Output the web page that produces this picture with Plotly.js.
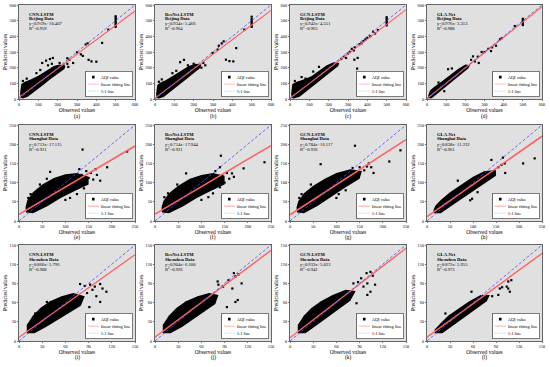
<!DOCTYPE html>
<html>
<head>
<meta charset="utf-8">
<script src="https://cdn.plot.ly/plotly-3.0.1.min.js"></script>
<style>html,body{margin:0;padding:0;background:#fff;}#chart{width:550px;height:367px;}</style>
</head>
<body>
<div id="chart"></div>
<script>
// ---------- text / fit data ----------
const models = ['CNN-LSTM', 'ResNet-LSTM', 'GCN-LSTM', 'GLA-Net'];
const cities = ['Beijing Data', 'Shanghai Data', 'Shenzhen Data'];
const slopes = [[0.919, 0.934, 0.943, 0.976], [0.713, 0.714, 0.784, 0.838], [0.860, 0.904, 0.933, 0.872]];
const intercepts = [[10.407, 5.466, 4.551, 3.313], [17.115, 17.944, 16.117, 11.232], [5.796, 6.100, 5.022, 5.955]];
const slopeText = [['0.919', '0.934', '0.943', '0.976'], ['0.713', '0.714', '0.784', '0.838'], ['0.860', '0.904', '0.933', '0.872']];
const interceptText = [['10.407', '5.466', '4.551', '3.313'], ['17.115', '17.944', '16.117', '11.232'], ['5.796', '6.100', '5.022', '5.955']];
const r2Text = [['0.959', '0.964', '0.965', '0.988'], ['0.911', '0.921', '0.936', '0.961'], ['0.908', '0.926', '0.942', '0.973']];
const axisMax = [600, 250, 150];
const axisStep = [100, 50, 30];
const panelLabels = ['(a)', '(b)', '(c)', '(d)', '(e)', '(f)', '(g)', '(h)', '(i)', '(j)', '(k)', '(l)'];

// ---------- dense point clouds (outlines) and scattered points ----------
// Beijing
const aCloudX = [8, 20, 45, 80, 120, 160, 200, 235, 240, 210, 180, 140, 100, 60, 30, 12, 6];
const aCloudY = [8, 3, 15, 45, 85, 125, 160, 192, 210, 220, 210, 180, 148, 125, 110, 95, 40];
const aPtsX = [120, 140, 160, 175, 200, 210, 230, 250, 260, 280, 300, 320, 330, 345, 355, 360, 375, 400, 430, 462, 500, 500, 500, 500, 500, 500, 500, 500, 90, 110, 150, 170, 250, 255, 20, 40];
const aPtsY = [230, 245, 255, 262, 205, 230, 215, 260, 250, 230, 298, 285, 275, 348, 355, 250, 240, 238, 358, 443, 460, 470, 480, 490, 500, 510, 520, 528, 165, 185, 215, 225, 225, 205, 115, 130];
const bCloudX = [8, 20, 45, 80, 120, 160, 200, 235, 240, 210, 175, 135, 95, 55, 28, 12, 6];
const bCloudY = [6, 3, 12, 45, 85, 125, 165, 200, 220, 225, 210, 180, 145, 120, 105, 90, 35];
const bPtsX = [130, 150, 170, 200, 220, 240, 298, 324, 330, 345, 355, 420, 367, 385, 405, 462, 500, 500, 500, 500, 500, 500, 500, 90, 110, 250, 260, 20, 35];
const bPtsY = [235, 250, 215, 225, 195, 200, 294, 315, 340, 355, 368, 325, 251, 242, 240, 443, 460, 470, 480, 490, 500, 510, 525, 165, 180, 230, 215, 110, 125];
const cCloudX = [8, 20, 50, 90, 130, 170, 210, 250, 255, 225, 190, 150, 110, 70, 35, 12, 6];
const cCloudY = [6, 3, 15, 55, 95, 135, 175, 210, 230, 235, 215, 180, 145, 125, 110, 95, 35];
const cPtsX = [265, 280, 290, 300, 310, 320, 330, 335, 347, 350, 360, 370, 380, 390, 400, 415, 430, 440, 455, 333, 60, 80, 500, 500, 500, 500, 500, 500, 120, 150, 25];
const cPtsY = [255, 270, 262, 290, 300, 320, 310, 330, 194, 262, 350, 355, 370, 380, 390, 400, 430, 418, 440, 251, 140, 130, 470, 480, 490, 500, 510, 522, 175, 205, 115];
const dCloudX = [8, 25, 60, 100, 140, 180, 215, 225, 200, 160, 120, 80, 40, 15, 6];
const dCloudY = [5, 5, 40, 80, 120, 160, 195, 215, 220, 190, 150, 115, 80, 55, 20];
const dPtsX = [230, 240, 250, 265, 270, 285, 300, 320, 334, 340, 360, 381, 390, 458, 500, 500, 500, 500, 500, 110, 130, 60, 90];
const dPtsY = [250, 272, 240, 270, 230, 300, 300, 320, 306, 330, 340, 381, 388, 466, 472, 482, 492, 502, 512, 190, 195, 105, 50];
// Shanghai
const eCloudX = [15, 30, 60, 90, 120, 150, 150, 125, 100, 75, 50, 30, 18, 14];
const eCloudY = [22, 20, 38, 60, 78, 95, 115, 125, 122, 112, 95, 75, 55, 35];
const ePtsX = [67, 137, 233, 190, 165, 160, 155, 145, 130, 135, 100, 110, 125, 140, 20, 25, 45, 60, 168, 175, 150];
const ePtsY = [128, 186, 181, 140, 135, 108, 125, 130, 135, 120, 55, 60, 70, 85, 60, 70, 95, 110, 120, 105, 112];
const fCloudX = [15, 30, 60, 90, 120, 150, 150, 125, 100, 75, 50, 30, 18, 14];
const fCloudY = [22, 20, 38, 60, 78, 95, 118, 125, 120, 110, 92, 72, 52, 35];
const fPtsX = [67, 142, 236, 191, 166, 170, 155, 140, 130, 145, 100, 115, 125, 140, 20, 28, 48, 160, 150];
const fPtsY = [124, 170, 153, 137, 124, 115, 125, 140, 130, 118, 55, 62, 72, 88, 62, 72, 95, 110, 100];
const gCloudX = [15, 30, 60, 90, 120, 150, 155, 130, 100, 75, 50, 30, 18, 14];
const gCloudY = [22, 20, 40, 65, 88, 110, 130, 135, 125, 110, 92, 72, 52, 35];
const gPtsX = [66, 140, 238, 214, 166, 170, 160, 150, 135, 140, 100, 105, 120, 20, 25, 45, 175, 180];
const gPtsY = [148, 196, 184, 155, 142, 150, 132, 140, 138, 120, 60, 70, 80, 60, 70, 95, 140, 125];
const hCloudX = [15, 30, 60, 90, 120, 150, 150, 125, 100, 75, 50, 30, 18, 14];
const hCloudY = [20, 20, 45, 70, 95, 118, 132, 130, 115, 95, 75, 55, 40, 28];
const hPtsX = [67, 140, 234, 209, 169, 162, 165, 155, 145, 94, 98, 110, 130, 140, 170];
const hPtsY = [105, 159, 163, 150, 150, 146, 165, 140, 130, 54, 58, 75, 110, 115, 125];
// Shenzhen
const iCloudX = [10, 20, 35, 50, 65, 80, 85, 70, 55, 40, 28, 18, 10];
const iCloudY = [12, 12, 22, 33, 45, 55, 70, 75, 70, 62, 52, 40, 25];
const iPtsX = [21, 36, 79, 85, 92, 98, 105, 108, 113, 105, 91, 74, 55, 88, 100, 95];
const iPtsY = [43, 61, 89, 86, 88, 85, 89, 82, 77, 61, 53, 61, 58, 75, 70, 80];
const jCloudX = [10, 20, 35, 50, 65, 78, 82, 70, 55, 40, 28, 18, 10];
const jCloudY = [12, 12, 22, 35, 48, 58, 72, 75, 70, 62, 52, 40, 25];
const jPtsX = [81, 82, 88, 95, 102, 104, 108, 112, 104, 107, 93, 100, 30, 40];
const jPtsY = [93, 88, 85, 95, 106, 101, 104, 90, 61, 64, 53, 82, 50, 58];
const kCloudX = [10, 20, 35, 50, 65, 78, 85, 72, 55, 40, 28, 18, 10];
const kCloudY = [12, 12, 25, 38, 52, 63, 78, 80, 72, 62, 52, 40, 25];
const kPtsX = [82, 88, 92, 99, 104, 107, 110, 104, 100, 86, 95, 100, 30];
const kPtsY = [90, 92, 98, 106, 108, 102, 88, 77, 72, 59, 85, 90, 48];
const lCloudX = [10, 20, 35, 50, 65, 78, 82, 70, 55, 40, 28, 18, 10];
const lCloudY = [12, 12, 25, 38, 50, 62, 72, 72, 62, 50, 40, 28, 18];
const lPtsX = [58, 106, 110, 104, 106, 108, 78, 85, 93, 24, 95, 98];
const lPtsY = [77, 93, 95, 85, 82, 77, 69, 70, 72, 43, 82, 84];

const clouds = [
  [aCloudX, aCloudY, aPtsX, aPtsY], [bCloudX, bCloudY, bPtsX, bPtsY], [cCloudX, cCloudY, cPtsX, cPtsY], [dCloudX, dCloudY, dPtsX, dPtsY],
  [eCloudX, eCloudY, ePtsX, ePtsY], [fCloudX, fCloudY, fPtsX, fPtsY], [gCloudX, gCloudY, gPtsX, gPtsY], [hCloudX, hCloudY, hPtsX, hPtsY],
  [iCloudX, iCloudY, iPtsX, iPtsY], [jCloudX, jCloudY, jPtsX, jPtsY], [kCloudX, kCloudY, kPtsX, kPtsY], [lCloudX, lCloudY, lPtsX, lPtsY]
];

// ---------- layout geometry (pixels) ----------
const W = 550, H = 367;
const colPx = [[19, 135], [155, 271], [290, 406], [427, 542]];
const rowPx = [[5, 99], [125, 221], [245, 341]];
const labelPx = [117, 237, 357];
const FONT = 'Liberation Serif, Times New Roman, serif';
const redW = [1.1, 1.6, 1.4];

const data = [];
const layout = {
  width: W, height: H,
  margin: {l: 0, r: 0, t: 0, b: 0},
  paper_bgcolor: '#ffffff',
  plot_bgcolor: '#e0e0e0',
  showlegend: true,
  font: {family: FONT, color: '#000'},
  annotations: []
};

function note(xp, yp, txt, bold) {
  layout.annotations.push({
    xref: 'paper', yref: 'paper', x: xp / W, y: 1 - yp / H, xanchor: 'left', yanchor: 'middle', align: 'left',
    showarrow: false, font: {size: 4.6, family: FONT, color: '#000', weight: bold ? 'bold' : 'normal'}, text: txt
  });
}

for (let r = 0; r < 3; r++) {
  for (let c = 0; c < 4; c++) {
    const i = r * 4 + c;
    const n = i === 0 ? '' : String(i + 1);
    const xa = 'x' + n, ya = 'y' + n;
    const lg = 'legend' + n;
    const mx = axisMax[r];
    const [cx, cy, px, py] = clouds[i];
    data.push({x: cx, y: cy, xaxis: xa, yaxis: ya, mode: 'lines', fill: 'toself', fillcolor: '#000',
      line: {width: 0, color: '#000'}, showlegend: false, hoverinfo: 'skip'});
    data.push({x: px, y: py, xaxis: xa, yaxis: ya, mode: 'markers', marker: {symbol: 'square', size: 2.2, color: '#000'},
      showlegend: false, hoverinfo: 'skip'});
    data.push({x: [null], y: [null], xaxis: xa, yaxis: ya, mode: 'markers', name: 'AQI value', legend: lg,
      marker: {symbol: 'square', size: 7, color: '#000'}});
    const a = slopes[r][c], b = intercepts[r][c];
    data.push({x: [0, mx], y: [b, a * mx + b], xaxis: xa, yaxis: ya, mode: 'lines', name: 'linear fitting line', legend: lg,
      line: {color: '#ff6060', width: redW[r]}});
    data.push({x: [0, mx], y: [0, mx], xaxis: xa, yaxis: ya, mode: 'lines', name: '1:1 line', legend: lg,
      line: {color: '#4b4bff', width: 0.8, dash: '3px,2px'}});

    const [x0, x1] = colPx[c], [y0, y1] = rowPx[r];
    const axCommon = {
      range: [0, mx], dtick: axisStep[r], tick0: 0,
      showline: true, mirror: true, linecolor: '#000', linewidth: 0.6,
      ticks: 'outside', ticklen: 1.5, tickwidth: 0.5, tickcolor: '#000',
      tickfont: {size: 4.3, family: FONT, color: '#000'},
      showgrid: false, zeroline: false
    };
    layout['xaxis' + n] = Object.assign({}, axCommon, {
      domain: [x0 / W, x1 / W], anchor: ya,
      title: {text: 'Observed values', font: {size: 5.5, family: FONT}, standoff: 1}
    });
    layout['yaxis' + n] = Object.assign({}, axCommon, {
      domain: [1 - y1 / H, 1 - y0 / H], anchor: xa,
      title: {text: 'Predicted values', font: {size: 5.5, family: FONT}, standoff: 1}
    });
    layout[lg] = {
      x: (x1 - 1) / W, y: 1 - (y1 - 1) / H, xanchor: 'right', yanchor: 'bottom',
      bgcolor: '#fff', bordercolor: '#000', borderwidth: 1.4,
      font: {size: 12, family: FONT, color: '#000'}, tracegroupgap: 0
    };
    note(x0 + 8, y0 + 9, models[c], true);
    note(x0 + 8, y0 + 14, cities[r], true);
    note(x0 + 8, y0 + 19, 'y=' + slopeText[r][c] + 'x+' + interceptText[r][c], false);
    note(x0 + 8, y0 + 23.5, 'R<sup>2</sup>=' + r2Text[r][c], false);
    layout.annotations.push({
      xref: 'paper', yref: 'paper', x: ((x0 + x1) / 2) / W, y: 1 - labelPx[r] / H, xanchor: 'center', yanchor: 'middle',
      showarrow: false, font: {size: 5.5, family: FONT, color: '#000'}, text: panelLabels[i]
    });
  }
}

Plotly.newPlot('chart', data, layout, {staticPlot: true, displayModeBar: false}).then(function (gd) {
  const s = 0.37;
  gd.querySelectorAll('.infolayer > g').forEach(function (g) {
    const cls = g.getAttribute('class') || '';
    if (!/^legend\d*$/.test(cls.trim())) return;
    const t = g.getAttribute('transform') || '';
    const m = t.match(/translate\(\s*([-\d.e]+)[ ,]+([-\d.e]+)\s*\)/);
    if (!m) return;
    const tx = parseFloat(m[1]), ty = parseFloat(m[2]);
    const bg = g.querySelector('rect.bg');
    const w = bg ? parseFloat(bg.getAttribute('width')) : 0;
    const h = bg ? parseFloat(bg.getAttribute('height')) : 0;
    g.setAttribute('transform', 'translate(' + (tx + w * (1 - s)) + ',' + (ty + h * (1 - s)) + ') scale(' + s + ')');
  });
});
</script>
</body>
</html>
